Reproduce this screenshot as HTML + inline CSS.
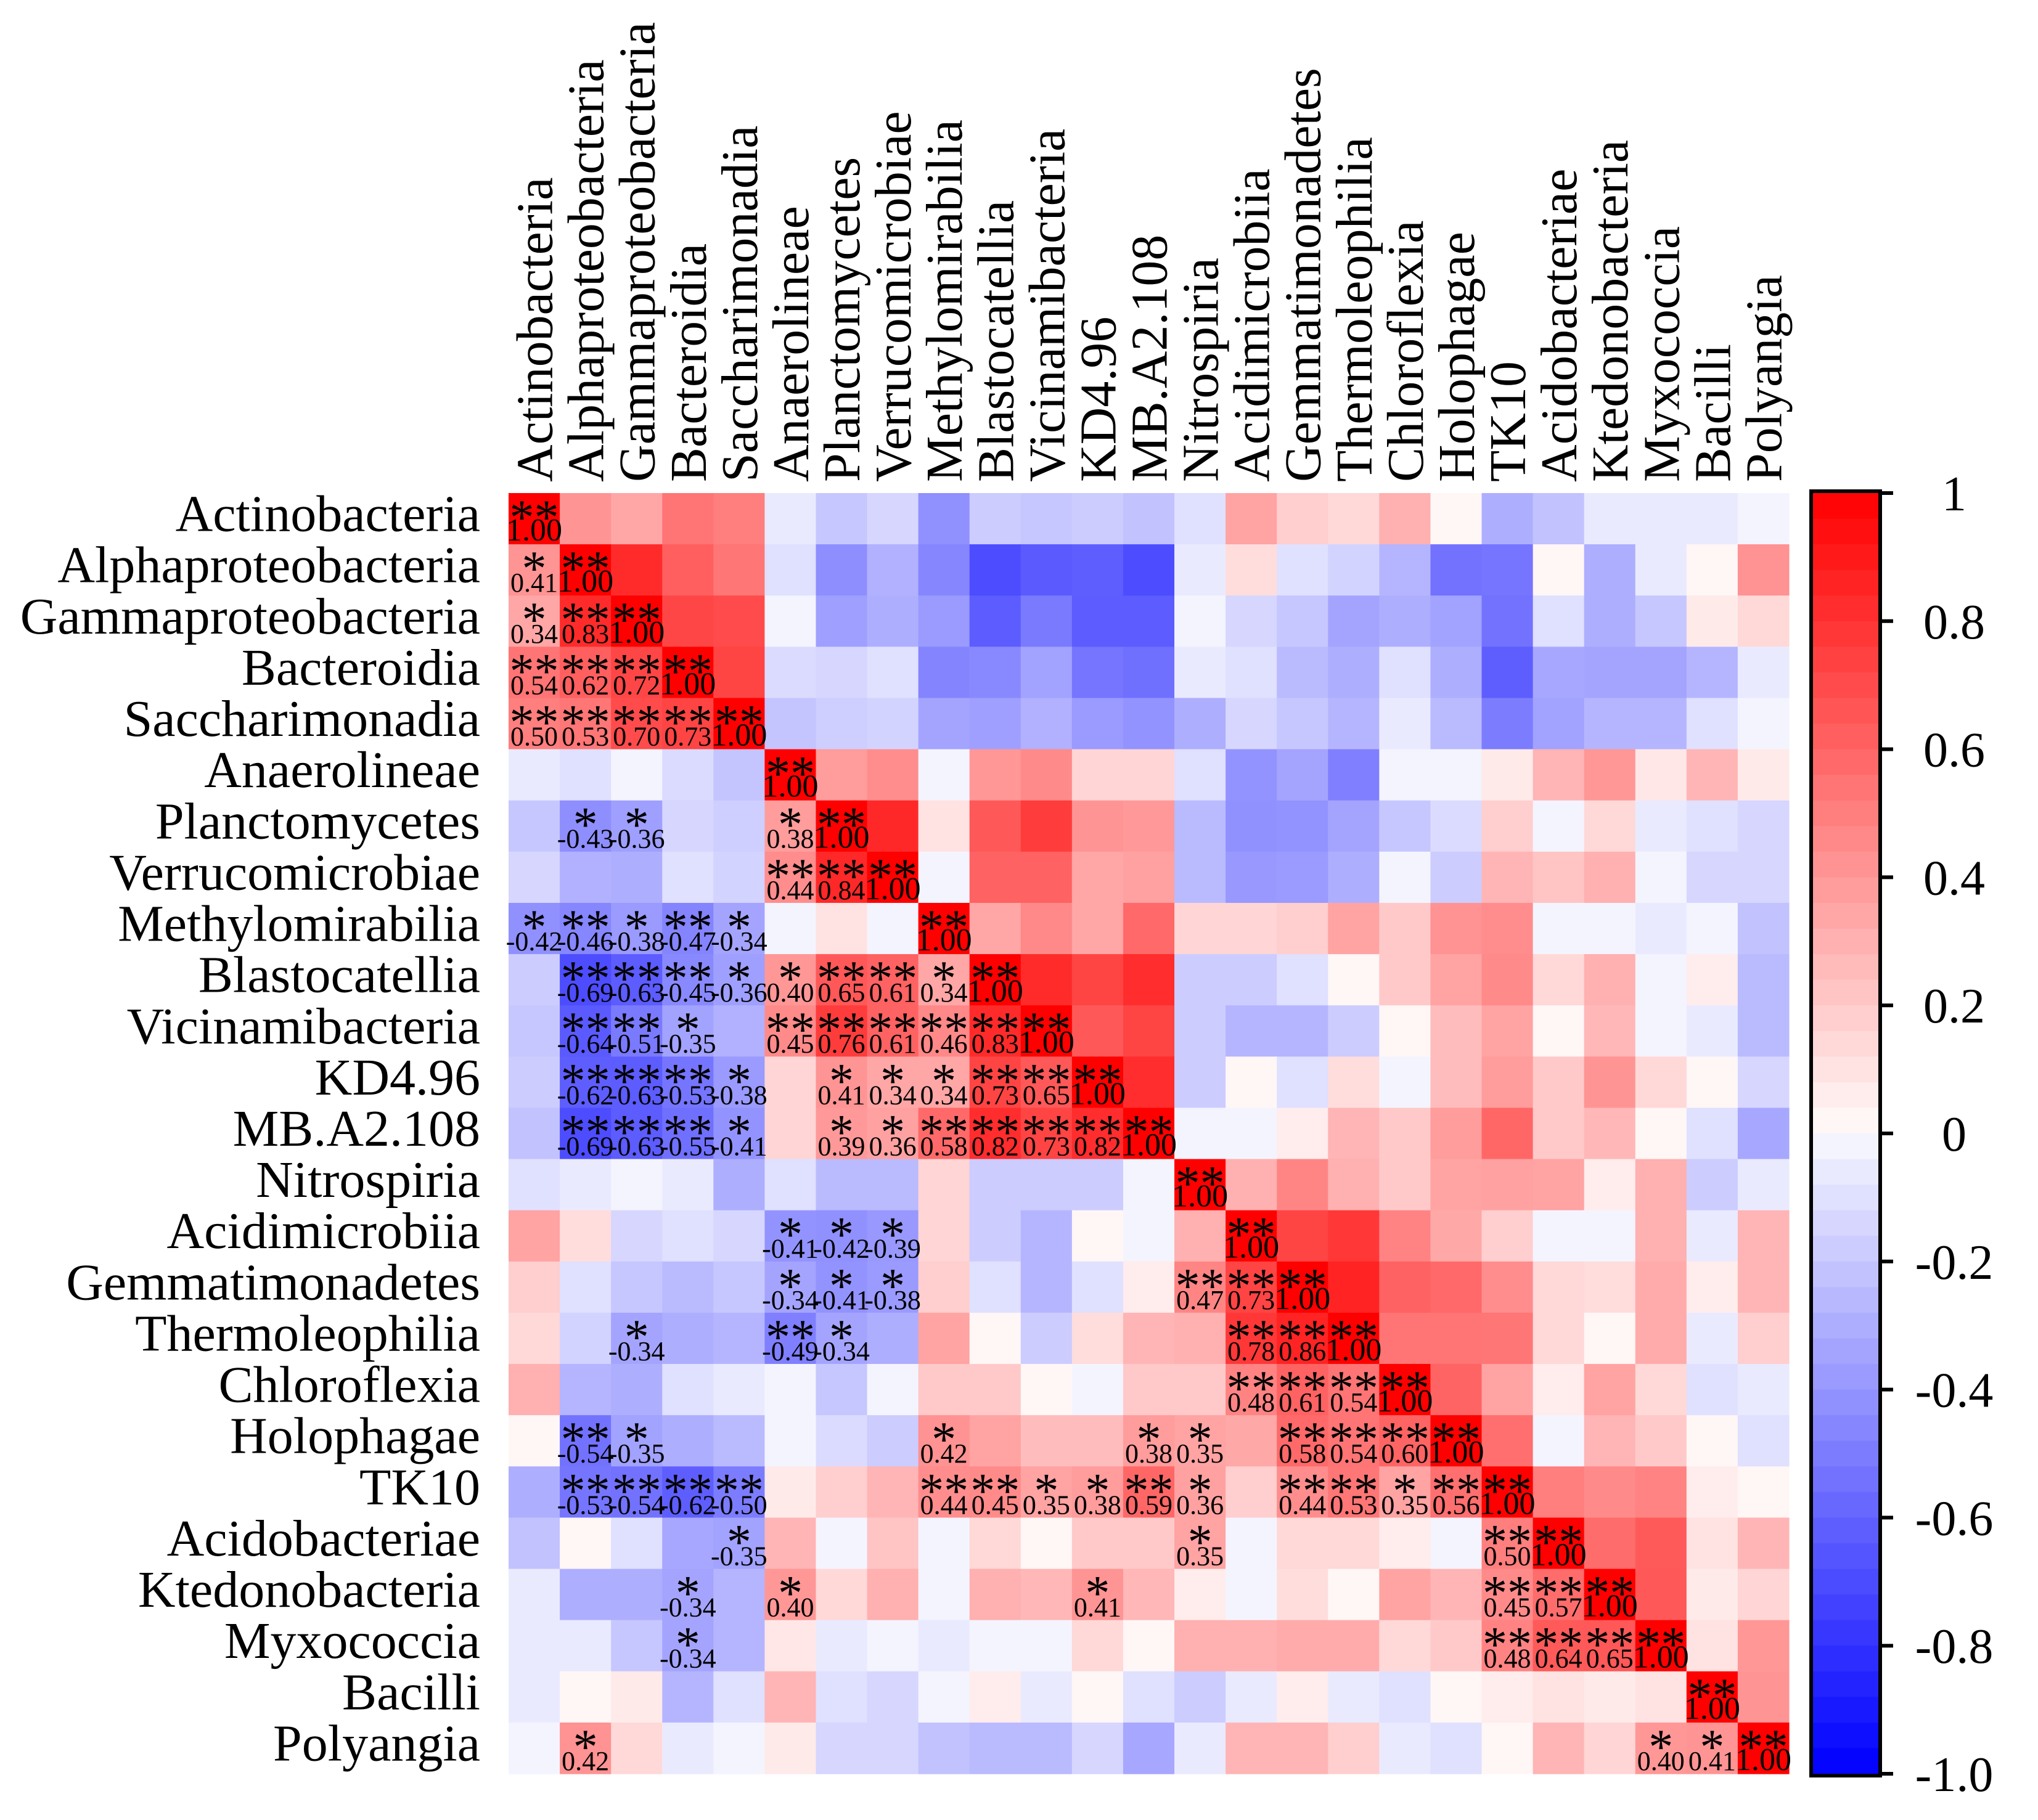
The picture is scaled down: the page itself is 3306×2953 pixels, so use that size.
<!DOCTYPE html>
<html><head><meta charset="utf-8"><style>
html,body{margin:0;padding:0;background:#fff;}
svg{display:block;font-family:"Liberation Serif","Times New Roman",serif;}
</style></head><body>
<svg id="chart" width="3306" height="2953" viewBox="0 0 3306 2953" xmlns="http://www.w3.org/2000/svg">
<g id="cells"></g>
<g id="labels"></g>
<g id="rowlabels"></g>
<g id="collabels"></g>
<g id="cbar"></g>
</svg>
<script>
const categories = ["Actinobacteria","Alphaproteobacteria","Gammaproteobacteria","Bacteroidia","Saccharimonadia","Anaerolineae","Planctomycetes","Verrucomicrobiae","Methylomirabilia","Blastocatellia","Vicinamibacteria","KD4.96","MB.A2.108","Nitrospiria","Acidimicrobiia","Gemmatimonadetes","Thermoleophilia","Chloroflexia","Holophagae","TK10","Acidobacteriae","Ktedonobacteria","Myxococcia","Bacilli","Polyangia"];
// lower triangle correlation values (row i, columns 0..i-1)
const corrLower = [
 [],
 [0.41],
 [0.34,0.83],
 [0.54,0.62,0.72],
 [0.50,0.53,0.70,0.73],
 [-0.06,-0.10,-0.02,-0.12,-0.21],
 [-0.20,-0.43,-0.36,-0.14,-0.17,0.38],
 [-0.14,-0.29,-0.30,-0.10,-0.15,0.44,0.84],
 [-0.42,-0.46,-0.38,-0.47,-0.34,-0.02,0.10,-0.02],
 [-0.18,-0.69,-0.63,-0.45,-0.36,0.40,0.65,0.61,0.34],
 [-0.20,-0.64,-0.51,-0.35,-0.29,0.45,0.76,0.61,0.46,0.83],
 [-0.18,-0.62,-0.63,-0.53,-0.38,0.15,0.41,0.34,0.34,0.73,0.65],
 [-0.22,-0.69,-0.63,-0.55,-0.41,0.15,0.39,0.36,0.58,0.82,0.73,0.82],
 [-0.10,-0.06,-0.02,-0.06,-0.30,-0.10,-0.25,-0.25,0.15,-0.18,-0.18,-0.18,-0.02],
 [0.35,0.12,-0.14,-0.10,-0.14,-0.41,-0.42,-0.39,0.15,-0.18,-0.27,0.02,-0.02,0.30],
 [0.18,-0.10,-0.20,-0.25,-0.20,-0.34,-0.41,-0.38,0.18,-0.10,-0.27,-0.10,0.06,0.47,0.73],
 [0.14,-0.15,-0.34,-0.30,-0.27,-0.49,-0.34,-0.30,0.35,0.02,-0.18,0.12,0.28,0.30,0.78,0.86],
 [0.30,-0.27,-0.30,-0.10,-0.06,-0.02,-0.20,-0.02,0.20,0.20,0.02,-0.02,0.20,0.20,0.48,0.61,0.54],
 [0.02,-0.54,-0.35,-0.30,-0.25,-0.02,-0.12,-0.18,0.42,0.35,0.25,0.25,0.38,0.35,0.33,0.58,0.54,0.60],
 [-0.30,-0.53,-0.54,-0.62,-0.50,0.07,0.18,0.28,0.44,0.45,0.35,0.38,0.59,0.36,0.18,0.44,0.53,0.35,0.56],
 [-0.22,0.02,-0.10,-0.33,-0.35,0.28,-0.02,0.22,-0.02,0.14,0.02,0.20,0.20,0.35,-0.02,0.14,0.14,0.06,-0.02,0.50],
 [-0.06,-0.30,-0.30,-0.34,-0.27,0.40,0.14,0.30,-0.02,0.30,0.27,0.41,0.27,0.06,-0.02,0.12,0.02,0.35,0.28,0.45,0.57],
 [-0.06,-0.06,-0.20,-0.34,-0.27,0.08,-0.06,-0.02,-0.06,-0.02,-0.02,0.14,0.02,0.30,0.30,0.32,0.32,0.14,0.20,0.48,0.64,0.65],
 [-0.06,0.02,0.07,-0.27,-0.10,0.28,-0.10,-0.14,-0.02,0.06,-0.06,0.02,-0.10,-0.18,-0.06,0.06,-0.06,-0.10,0.02,0.06,0.10,0.07,0.10],
 [-0.02,0.42,0.14,-0.06,-0.02,0.07,-0.14,-0.14,-0.22,-0.25,-0.25,-0.14,-0.33,-0.06,0.28,0.28,0.18,-0.06,-0.10,0.02,0.28,0.15,0.40,0.41]
];
// significance level (0 none, 1 = *, 2 = **)
const sigLower = [
 [],
 [1],
 [1,2],
 [2,2,2],
 [2,2,2,2],
 [0,0,0,0,0],
 [0,1,1,0,0,1],
 [0,0,0,0,0,2,2],
 [1,2,1,2,1,0,0,0],
 [0,2,2,2,1,1,2,2,1],
 [0,2,2,1,0,2,2,2,2,2],
 [0,2,2,2,1,0,1,1,1,2,2],
 [0,2,2,2,1,0,1,1,2,2,2,2],
 [0,0,0,0,0,0,0,0,0,0,0,0,0],
 [0,0,0,0,0,1,1,1,0,0,0,0,0,0],
 [0,0,0,0,0,1,1,1,0,0,0,0,0,2,2],
 [0,0,1,0,0,2,1,0,0,0,0,0,0,0,2,2],
 [0,0,0,0,0,0,0,0,0,0,0,0,0,0,2,2,2],
 [0,2,1,0,0,0,0,0,1,0,0,0,1,1,0,2,2,2],
 [0,2,2,2,2,0,0,0,2,2,1,1,2,1,0,2,2,1,2],
 [0,0,0,0,1,0,0,0,0,0,0,0,0,1,0,0,0,0,0,2],
 [0,0,0,1,0,1,0,0,0,0,0,1,0,0,0,0,0,0,0,2,2],
 [0,0,0,1,0,0,0,0,0,0,0,0,0,0,0,0,0,0,0,2,2,2],
 [0,0,0,0,0,0,0,0,0,0,0,0,0,0,0,0,0,0,0,0,0,0,0],
 [0,1,0,0,0,0,0,0,0,0,0,0,0,0,0,0,0,0,0,0,0,0,1,1]
];
const cbarTicks = [1,0.8,0.6,0.4,0.2,0,-0.2,-0.4,-0.6,-0.8,-1.0];
const cbarTickLabels = ["1","0.8","0.6","0.4","0.2","0","-0.2","-0.4","-0.6","-0.8","-1.0"];

const NS="http://www.w3.org/2000/svg";
const X0=825, Y0=800, W=2077, H=2078, n=categories.length;
const cw=W/n, ch=H/n;
const xPos=j=>X0+j*cw, yPos=i=>Y0+i*ch;
function color(v){
  v=Math.max(-1,Math.min(1,v));
  if(v>=0){const g=Math.round(255*(1-v)*0.985+ (v<0.02?3:0));return `rgb(255,${g},${g})`;}
  const b=Math.round(255*(1+v)*0.975);return `rgb(${b},${b},255)`;
}
function val(i,j){ if(i===j) return 1; return i>j?corrLower[i][j]:corrLower[j][i]; }
function mk(tag,attrs,parent){const e=document.createElementNS(NS,tag);for(const k in attrs)e.setAttribute(k,attrs[k]);parent.appendChild(e);return e;}
const gC=document.getElementById('cells'), gL=document.getElementById('labels');
for(let i=0;i<n;i++)for(let j=0;j<n;j++){
  const r=mk('rect',{x:xPos(j).toFixed(2),y:yPos(i).toFixed(2),width:(cw+0.6).toFixed(2),height:(ch+0.6).toFixed(2),fill:color(val(i,j))},gC);
  
  
}
for(let i=0;i<n;i++)for(let j=0;j<=i;j++){
  const s = i===j?2:sigLower[i][j];
  if(!s) continue;
  const cx=xPos(j)+cw/2, top=yPos(i);
  const st=mk('text',{x:cx,y:top+66,'text-anchor':'middle','font-size':80},gL);
  st.textContent=s===2?'**':'*';
  
  
  const v=val(i,j);
  const t=mk('text',{x:cx,y:top+(i===j?77:77),'text-anchor':'middle','font-size':i===j?52:44},gL);
  t.textContent=v.toFixed(2);
  
  
}
const gR=document.getElementById('rowlabels'), gCl=document.getElementById('collabels');
categories.forEach((c,i)=>{
  const t=mk('text',{x:779,y:(yPos(i)+ch/2+20).toFixed(1),'text-anchor':'end','font-size':84},gR);
  t.textContent=c;
  
  
  const bx=xPos(i)+cw/2+29;
  const u=mk('text',{x:0,y:0,'text-anchor':'start','font-size':84,transform:`translate(${bx.toFixed(1)},782) rotate(-90)`},gCl);
  u.textContent=c;
  
  
});
// colorbar
const gB=document.getElementById('cbar');
const CB={x:2941,w:106,top:800,bot:2878};
const cy=v=>CB.top+(1-v)/2*(CB.bot-CB.top);
const nb=50;
for(let k=0;k<nb;k++){
  const v1=1-k*2/nb, v2=v1-2/nb, mid=(v1+v2)/2;
  const r=mk('rect',{x:CB.x,y:cy(v1).toFixed(2),width:CB.w,height:(cy(v2)-cy(v1)+0.6).toFixed(2),fill:color(mid)},gB);
  
  
}
const fr=mk('rect',{x:CB.x-3,y:CB.top-3,width:CB.w+6,height:CB.bot-CB.top+6,fill:'none',stroke:'#000','stroke-width':6},gB);


cbarTicks.forEach((v,k)=>{
  const y=cy(v);
  const l=mk('line',{x1:CB.x+CB.w,x2:3071,y1:y,y2:y,stroke:'#000','stroke-width':6},gB);
  
  
  const t=mk('text',{x:3170,y:(y+28).toFixed(1),'text-anchor':'middle','font-size':80},gB);
  t.textContent=cbarTickLabels[k];
  
  
});
</script>
</body></html>
